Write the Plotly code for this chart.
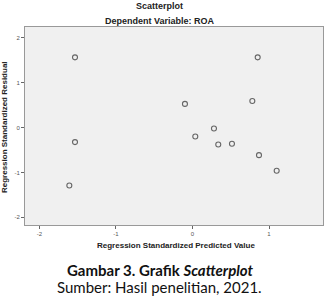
import plotly.graph_objects as go

pred = [-1.534, 0.852, -0.098, 0.782, -1.534, 0.037, 0.281, 0.337, 0.516, 0.869, 1.10, -1.608]
resid = [1.564, 1.564, 0.527, 0.593, -0.324, -0.200, -0.022, -0.378, -0.362, -0.614, -0.962, -1.290]
x_ticks = [-2, -1, 0, 1]
y_ticks = [-2, -1, 0, 1, 2]

fig = go.Figure()
fig.add_trace(go.Scatter(
    x=pred, y=resid, mode="markers",
    marker=dict(symbol="circle-open", size=5, color="#666666", line=dict(width=1.1, color="#666666")),
    showlegend=False, hoverinfo="skip"))

fig.update_layout(
    width=328, height=297,
    margin=dict(l=25, r=5, t=27, b=72),
    paper_bgcolor="white", plot_bgcolor="#f0f0f0",
    font=dict(family="Liberation Sans, Arial", color="#222"),
    xaxis=dict(range=[-2.187, 1.705], tickvals=x_ticks, ticktext=[str(v) for v in x_ticks],
               showgrid=False, zeroline=False, ticks="outside", ticklen=3, tickcolor="#666",
               tickfont=dict(size=6, color="#555"), showline=True, linecolor="#999", mirror=True,
               linewidth=1),
    yaxis=dict(range=[-2.17, 2.24], tickvals=y_ticks, ticktext=[str(v) for v in y_ticks],
               showgrid=False, zeroline=False, ticks="outside", ticklen=3, tickcolor="#666",
               tickfont=dict(size=6, color="#555"), showline=True, linecolor="#999", mirror=True,
               linewidth=1),
)

ann = [
    dict(text="<b>Scatterplot</b>", x=0.453, y=1.108, size=9, fam="Liberation Sans, Arial", col="#222"),
    dict(text="<b>Dependent Variable: ROA</b>", x=0.453, y=1.030, size=9, fam="Liberation Sans, Arial", col="#222"),
    dict(text="<b>Regression Standardized Predicted Value</b>", x=0.507, y=-0.106, size=8, fam="Liberation Sans, Arial", col="#222"),
    dict(text="<b>Gambar 3. Grafik <i>Scatterplot</i></b>", x=0.453, y=-0.227, size=15, fam="Lato, Open Sans", col="#111"),
    dict(text="Sumber: Hasil penelitian, 2021.", x=0.450, y=-0.313, size=15, fam="Lato, Open Sans", col="#111"),
]
for a in ann:
    fig.add_annotation(text=a["text"], x=a["x"], y=a["y"], xref="paper", yref="paper",
                       showarrow=False, xanchor="center", yanchor="middle",
                       font=dict(size=a["size"], family=a["fam"], color=a["col"]))
fig.add_annotation(text="<b>Regression Standardized Residual</b>", x=-0.067, y=0.495,
                   xref="paper", yref="paper", showarrow=False, textangle=-90,
                   xanchor="center", yanchor="middle",
                   font=dict(size=8, family="Liberation Sans, Arial", color="#222"))

fig.write_html("out.html")
